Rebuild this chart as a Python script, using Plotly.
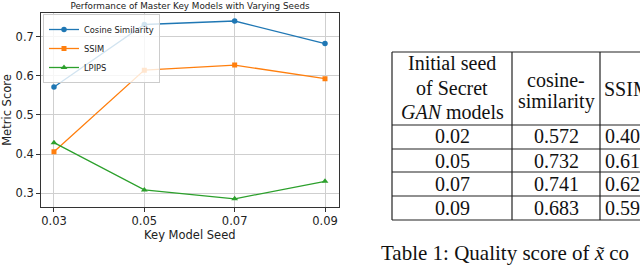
import plotly.graph_objects as go

W, H = 640, 265

# ---- data ----
seeds = [0.03, 0.05, 0.07, 0.09]
cosine = [0.572, 0.732, 0.741, 0.683]
ssim = [0.406, 0.615, 0.628, 0.593]
lpips = [0.429, 0.308, 0.285, 0.330]
x_ticks = [0.03, 0.05, 0.07, 0.09]
x_tick_labels = ["0.03", "0.05", "0.07", "0.09"]
y_ticks = [0.3, 0.4, 0.5, 0.6, 0.7]
y_tick_labels = ["0.3", "0.4", "0.5", "0.6", "0.7"]

table_seeds = ["0.02", "0.05", "0.07", "0.09"]
table_cosine = cosine
table_ssim = ssim

def px(x):
    return x / W

def py(y):
    return 1 - y / H

fig = go.Figure()
fig.add_trace(go.Scatter(x=seeds, y=cosine, mode="lines+markers", name="Cosine Similarity",
                         line=dict(color="#1f77b4", width=1.3),
                         marker=dict(symbol="circle", size=5.5, color="#1f77b4")))
fig.add_trace(go.Scatter(x=seeds, y=ssim, mode="lines+markers", name="SSIM",
                         line=dict(color="#ff7f0e", width=1.3),
                         marker=dict(symbol="square", size=5, color="#ff7f0e")))
fig.add_trace(go.Scatter(x=seeds, y=lpips, mode="lines+markers", name="LPIPS",
                         line=dict(color="#2ca02c", width=1.3),
                         marker=dict(symbol="triangle-up", size=6, color="#2ca02c")))

axis_font = dict(family="DejaVu Sans", size=11.5, color="#222")
fig.update_layout(
    width=W, height=H,
    margin=dict(l=0, r=0, t=0, b=0),
    paper_bgcolor="white", plot_bgcolor="white",
    showlegend=True,
    title=dict(text="Performance of Master Key Models with Varying Seeds",
               font=dict(family="DejaVu Sans", size=8.8, color="#222"),
               x=px(190), xanchor="center", y=py(6), yanchor="middle"),
    xaxis=dict(domain=[px(40.7), px(339)], range=[0.02706, 0.0931],
               tickvals=x_ticks, ticktext=x_tick_labels, tickfont=axis_font,
               ticks="outside", ticklen=3.5, tickcolor="#333",
               showgrid=True, gridcolor="#cfcfcf", gridwidth=1,
               showline=True, linecolor="#333", linewidth=1, mirror=True,
               zeroline=False, automargin=False,
               title=dict(text="Key Model Seed", font=axis_font, standoff=2)),
    yaxis=dict(domain=[py(207), py(13)], range=[0.2641, 0.7615],
               tickvals=y_ticks, ticktext=y_tick_labels, tickfont=axis_font,
               ticks="outside", ticklen=3.5, tickcolor="#333",
               showgrid=True, gridcolor="#cfcfcf", gridwidth=1,
               showline=True, linecolor="#333", linewidth=1, mirror=True,
               zeroline=False, automargin=False,
               title=dict(text="Metric Score", font=axis_font, standoff=4)),
    legend=dict(x=px(43), y=py(14), xanchor="left", yanchor="top",
                bgcolor="rgba(255,255,255,0.8)", bordercolor="#cccccc", borderwidth=1,
                font=dict(family="DejaVu Sans", size=8.3, color="#222"),
                tracegroupgap=0, itemwidth=30),
)

# ---- table (right side) ----
line_col = "#222"
col_x = [392, 512, 600]
row_y = [52, 125, 149, 172, 196, 220]
for x in col_x:
    fig.add_shape(type="line", xref="paper", yref="paper",
                  x0=px(x), x1=px(x), y0=py(row_y[0]), y1=py(row_y[-1]),
                  line=dict(color=line_col, width=1.2))
for y in row_y:
    fig.add_shape(type="line", xref="paper", yref="paper",
                  x0=px(col_x[0]), x1=px(W + 5), y0=py(y), y1=py(y),
                  line=dict(color=line_col, width=1.2))

tfont = dict(family="Liberation Serif", size=20, color="#111")

def ann(text, x, y, xanchor="center", size=20):
    fig.add_annotation(text=text, xref="paper", yref="paper", x=px(x), y=py(y),
                       xanchor=xanchor, yanchor="middle", showarrow=False,
                       font=dict(tfont, size=size))

# header
ann("Initial seed", 452, 63)
ann("of Secret", 452, 88)
ann("<i>GAN</i> models", 452, 112)
ann("cosine-", 556, 80)
ann("similarity", 556, 101)
ann("SSIM", 602, 89, xanchor="left")

row_centers = [136, 160.5, 184, 208]
for i, yc in enumerate(row_centers):
    ann(table_seeds[i], 452, yc)
    ann(f"{table_cosine[i]:.3f}", 556, yc)
    ann(f"{table_ssim[i]:.3f}", 603, yc, xanchor="left")

ann("Table 1: Quality score of <i>x\u0303</i> co", 379, 253, xanchor="left", size=21)

fig.write_html("out.html", config={"displayModeBar": False},
               post_script="document.body.style.margin='0';")
